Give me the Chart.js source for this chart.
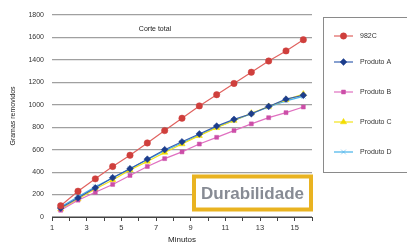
<!DOCTYPE html>
<html lang="pt">
<head>
  <meta charset="utf-8">
  <title>Corte total</title>
  <style>
    html, body { margin: 0; padding: 0; background: #fff; }
    #wrap { width: 407px; height: 247px; }
  </style>
</head>
<body>
  <div id="wrap"><canvas id="chart" width="407" height="247"></canvas></div>

  <script src="https://cdn.jsdelivr.net/npm/chart.js"></script>
  <script>
    // dados
    const minutos   = [1.5, 2.5, 3.5, 4.5, 5.5, 6.5, 7.5, 8.5, 9.5, 10.5, 11.5, 12.5, 13.5, 14.5, 15.5];
    const serie982C = [100, 230, 340, 450, 550, 660, 770, 880, 990, 1090, 1190, 1290, 1390, 1480, 1580];
    const produtoA  = [80, 170, 260, 350, 430, 515, 600, 670, 740, 810, 870, 920, 985, 1050, 1085];
    const produtoB  = [60, 150, 220, 290, 370, 450, 520, 580, 650, 710, 770, 830, 885, 930, 980];
    const produtoC  = [70, 160, 250, 330, 420, 495, 575, 650, 725, 795, 860, 925, 985, 1045, 1095];
    const produtoD  = [90, 180, 270, 350, 430, 510, 590, 660, 730, 800, 860, 920, 980, 1035, 1075];
    const nomes     = ['982C', 'Produto A', 'Produto B', 'Produto C', 'Produto D'];
    const yTicks    = [0, 200, 400, 600, 800, 1000, 1200, 1400, 1600, 1800];

    const pts = arr => arr.map((v, i) => ({ x: minutos[i], y: v }));

    const FONT = '"Liberation Sans", Arial, sans-serif';

    // legenda desenhada à mão, com caixa
    const legendBox = {
      id: 'legendBox',
      afterDraw(chart) {
        const ctx = chart.ctx;
        ctx.save();
        ctx.strokeStyle = '#8a8a8a';
        ctx.lineWidth = 1;
        ctx.strokeRect(323.5, 17.5, 100, 155);
        const rows = [36, 62, 92, 122, 152];
        chart.data.datasets.forEach((ds, i) => {
          const y = rows[i];
          ctx.strokeStyle = ds.borderColor;
          ctx.lineWidth = 1.2;
          ctx.beginPath();
          ctx.moveTo(334, y);
          ctx.lineTo(353, y);
          ctx.stroke();
          ctx.fillStyle = ds.pointBackgroundColor;
          ctx.strokeStyle = ds.pointBorderColor;
          ctx.lineWidth = ds.pointBorderWidth;
          Chart.helpers.drawPoint(ctx, {
            pointStyle: ds.pointStyle, radius: ds.pointRadius,
            borderWidth: ds.pointBorderWidth, rotation: 0
          }, 343.5, y);
          ctx.fillStyle = '#333';
          ctx.font = '7px ' + FONT;
          ctx.textBaseline = 'middle';
          ctx.textAlign = 'left';
          ctx.fillText(ds.label, 360, y);
        });
        ctx.restore();
      }
    };

    // título interno e selo "Durabilidade"
    const extras = {
      id: 'extras',
      afterDatasetsDraw(chart) {
        const ctx = chart.ctx;
        ctx.save();
        ctx.fillStyle = '#222';
        ctx.font = '7px ' + FONT;
        ctx.textAlign = 'center';
        ctx.textBaseline = 'middle';
        ctx.fillText('Corte total', 155, 29);

        ctx.fillStyle = '#fff';
        ctx.fillRect(192, 174.5, 121, 37);
        ctx.strokeStyle = '#e9b321';
        ctx.lineWidth = 4;
        ctx.strokeRect(194, 176.5, 117, 33);
        ctx.fillStyle = '#878b94';
        ctx.font = 'bold 17px ' + FONT;
        ctx.fillText('Durabilidade', 252.5, 194);
        ctx.restore();
      }
    };

    const mk = (label, data, line, fill, style, r) => ({
      label: label,
      data: pts(data),
      borderColor: line,
      borderWidth: 1.2,
      pointStyle: style,
      pointRadius: r,
      pointBackgroundColor: fill,
      pointBorderColor: fill,
      pointBorderWidth: 0.5,
      tension: 0
    });

    new Chart(document.getElementById('chart'), {
      type: 'line',
      data: {
        datasets: [
          mk(nomes[0], serie982C, '#e0625f', '#cf3f3c', 'circle', 3.2),
          mk(nomes[1], produtoA, '#3660b0', '#1c3d8c', 'rectRot', 3.4),
          mk(nomes[2], produtoB, '#e070c0', '#cc4ea8', 'rect', 2.8),
          mk(nomes[3], produtoC, '#f2e21a', '#f2dc00', 'triangle', 3.6),
          mk(nomes[4], produtoD, '#45b3ea', '#3aa8e8', 'crossRot', 3.4)
        ]
      },
      options: {
        responsive: false,
        animation: false,
        devicePixelRatio: 1,
        layout: { padding: { left: 0, right: 95, top: 15, bottom: 0 } },
        plugins: { legend: { display: false }, tooltip: { enabled: false } },
        scales: {
          x: {
            type: 'linear',
            min: 1,
            max: 16,
            afterFit: s => { s.height = 30; },
            afterBuildTicks: s => {
              s.ticks = [];
              for (let v = 1; v <= 16; v++) s.ticks.push({ value: v });
            },
            ticks: {
              autoSkip: false,
              maxRotation: 0,
              padding: 2,
              color: '#333',
              font: { family: FONT, size: 7.5 },
              callback: v => (v % 2 === 1 && v < 16) ? String(v) : ''
            },
            grid: { drawOnChartArea: false, drawTicks: true, tickLength: 4, color: '#444' },
            border: { display: true, color: '#444', width: 1 },
            title: {
              display: true, text: 'Minutos', color: '#222',
              font: { family: FONT, size: 8 }, padding: { top: 0, bottom: 2 }
            }
          },
          y: {
            min: 0,
            max: 1800,
            afterFit: s => { s.width = 52; },
            afterBuildTicks: s => { s.ticks = yTicks.map(v => ({ value: v })); },
            ticks: {
              padding: 8,
              color: '#333',
              font: { family: FONT, size: 7 },
              callback: v => String(v)
            },
            grid: { color: '#a0a0a0', lineWidth: 1.2, drawTicks: false },
            border: { display: false },
            title: {
              display: true, text: 'Gramas removidos', color: '#222',
              font: { family: FONT, size: 7 }, padding: { top: 9, bottom: 0 }
            }
          }
        }
      },
      plugins: [extras, legendBox]
    });
  </script>
</body>
</html>
